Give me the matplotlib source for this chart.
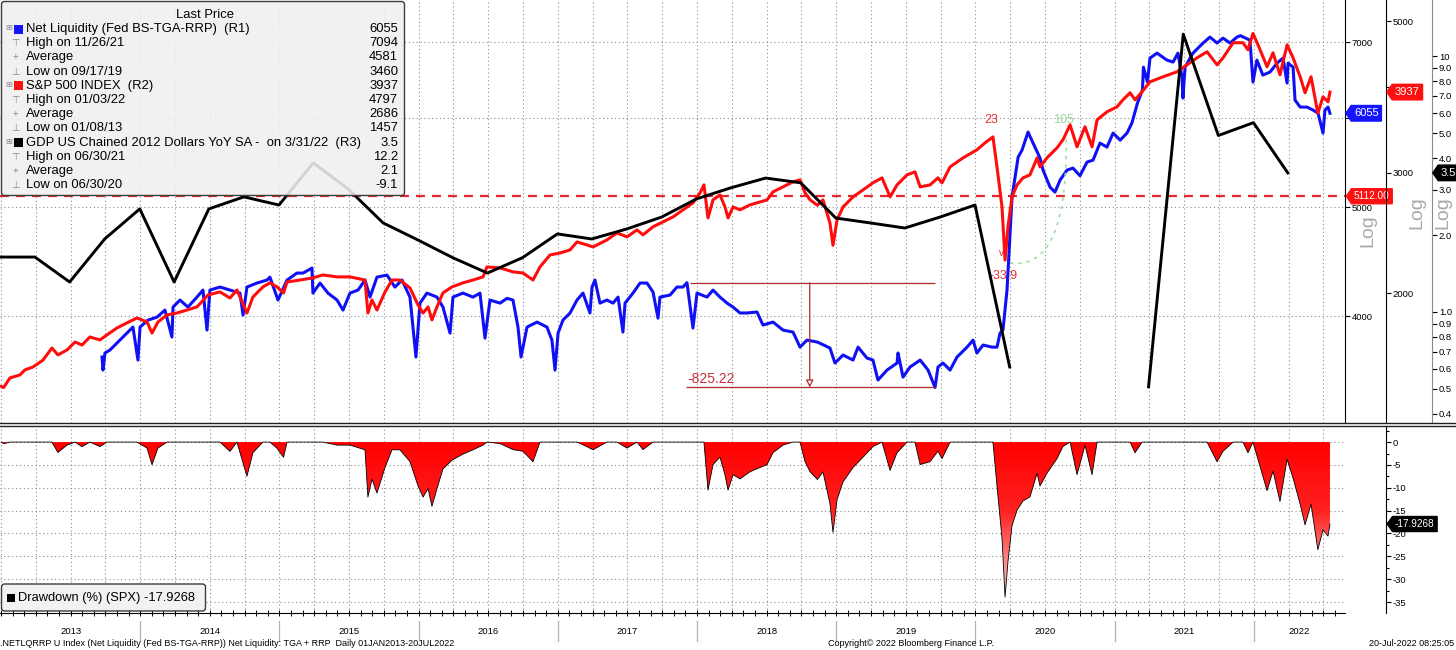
import numpy as np
import pandas as pd
import matplotlib
matplotlib.use("Agg")
import matplotlib.pyplot as plt
from matplotlib import transforms
from matplotlib.colors import LinearSegmentedColormap
from matplotlib.lines import Line2D
from matplotlib.patches import FancyBboxPatch, PathPatch, Rectangle
from matplotlib.path import Path
from matplotlib.ticker import FixedLocator, MultipleLocator, NullLocator, FuncFormatter

plt.rcParams['font.family'] = ['Liberation Sans', 'DejaVu Sans']
plt.rcParams['axes.unicode_minus'] = False

# ---------------------------------------------------------------------------
# data (decimal year, value)
# ---------------------------------------------------------------------------
# Net Liquidity (Fed BS - TGA - RRP), R1
liq_pts = [
    (2013.726, 3682), (2013.733, 3585), (2013.747, 3712), (2013.783, 3735), (2013.833, 3788),
    (2013.905, 3866), (2013.948, 3914), (2013.984, 3659), (2013.999, 3914),
    (2014.056, 3970), (2014.121, 3994), (2014.178, 4052), (2014.228, 3835), (2014.236, 4077),
    (2014.286, 4136), (2014.343, 4077), (2014.408, 4161), (2014.451, 4221), (2014.480, 3890),
    (2014.501, 4221), (2014.573, 4247), (2014.645, 4221), (2014.717, 4195), (2014.739, 4011),
    (2014.767, 4247), (2014.839, 4282), (2014.911, 4308), (2014.932, 4334), (2014.990, 4136),
    (2015.055, 4308), (2015.126, 4370), (2015.170, 4370), (2015.234, 4415), (2015.241, 4195),
    (2015.292, 4282), (2015.349, 4195), (2015.414, 4136), (2015.457, 4052), (2015.507, 4195),
    (2015.565, 4221), (2015.615, 4308), (2015.651, 4161), (2015.701, 4334), (2015.773, 4352),
    (2015.830, 4247), (2015.881, 4308), (2015.938, 4161), (2015.981, 3682),
    (2016.010, 4110), (2016.060, 4195), (2016.132, 4161), (2016.175, 4077), (2016.226, 3866),
    (2016.247, 4161), (2016.319, 4195), (2016.391, 4161), (2016.441, 4195), (2016.477, 3827),
    (2016.513, 4136), (2016.585, 4110), (2016.635, 4150), (2016.678, 4136), (2016.714, 3914),
    (2016.736, 3682), (2016.779, 3914), (2016.851, 3954), (2016.922, 3914), (2016.958, 3811),
    (2016.980, 3585),
    (2017.002, 3866), (2017.037, 3970), (2017.088, 4028), (2017.138, 4136), (2017.181, 4195),
    (2017.231, 4028), (2017.246, 4247), (2017.267, 4308), (2017.303, 4110), (2017.353, 4136),
    (2017.397, 4110), (2017.433, 4161), (2017.468, 3874), (2017.483, 4110), (2017.540, 4195),
    (2017.591, 4282), (2017.641, 4282), (2017.684, 4204), (2017.720, 3986), (2017.734, 4161),
    (2017.806, 4178), (2017.856, 4247), (2017.899, 4247), (2017.928, 4285), (2017.971, 3906),
    (2018.000, 4195), (2018.072, 4161), (2018.115, 4221), (2018.165, 4161), (2018.216, 4110),
    (2018.259, 4077), (2018.309, 4028), (2018.359, 4028), (2018.431, 4036), (2018.474, 3930),
    (2018.546, 3954), (2018.618, 3890), (2018.690, 3874), (2018.740, 3757), (2018.790, 3811),
    (2018.865, 3796), (2018.955, 3750), (2018.991, 3637),
    (2019.049, 3697), (2019.121, 3659), (2019.157, 3757), (2019.221, 3674), (2019.264, 3659),
    (2019.300, 3513), (2019.365, 3585), (2019.437, 3637), (2019.444, 3712), (2019.480, 3534),
    (2019.530, 3607), (2019.603, 3659), (2019.660, 3585), (2019.710, 3460), (2019.731, 3607),
    (2019.767, 3637), (2019.818, 3585), (2019.868, 3682), (2019.940, 3757), (2019.983, 3811),
    (2020.011, 3712), (2020.055, 3773), (2020.119, 3757), (2020.155, 3757), (2020.177, 3866),
    (2020.198, 3890), (2020.227, 4221), (2020.249, 4741), (2020.263, 5103), (2020.307, 5537),
    (2020.335, 5617), (2020.378, 5827), (2020.414, 5698), (2020.464, 5526), (2020.486, 5392),
    (2020.536, 5208), (2020.572, 5155), (2020.608, 5283), (2020.658, 5392), (2020.701, 5414),
    (2020.751, 5330), (2020.802, 5481), (2020.845, 5503), (2020.895, 5698), (2020.945, 5651),
    (2020.989, 5815),
    (2021.040, 5732), (2021.089, 5815), (2021.124, 5935), (2021.164, 6182), (2021.200, 6349),
    (2021.207, 6653), (2021.236, 6453), (2021.254, 6777), (2021.305, 6846), (2021.376, 6749),
    (2021.420, 6722), (2021.455, 6846), (2021.484, 6519), (2021.491, 6246), (2021.506, 6653),
    (2021.563, 6846), (2021.635, 6988), (2021.685, 7074), (2021.736, 6988), (2021.779, 7059),
    (2021.829, 6988), (2021.879, 7074), (2021.904, 7094), (2021.972, 7030), (2021.994, 6453),
    (2022.022, 6749), (2022.065, 6546), (2022.116, 6586), (2022.167, 6708), (2022.210, 6777),
    (2022.239, 6440), (2022.246, 6708), (2022.282, 6653), (2022.296, 6220), (2022.333, 6132),
    (2022.382, 6132), (2022.425, 6095), (2022.461, 6057), (2022.497, 5815), (2022.511, 6095),
    (2022.533, 6132), (2022.547, 6055),
]

# S&P 500 index, R2
spx_pts = [
    (2013.003, 1462), (2013.019, 1457), (2013.065, 1505), (2013.136, 1520), (2013.172, 1546),
    (2013.230, 1561), (2013.302, 1598), (2013.366, 1664), (2013.409, 1626), (2013.474, 1653),
    (2013.532, 1698), (2013.582, 1681), (2013.639, 1727), (2013.711, 1710), (2013.761, 1739),
    (2013.833, 1780), (2013.905, 1811), (2013.977, 1841),
    (2014.049, 1817), (2014.085, 1750), (2014.128, 1817), (2014.193, 1860), (2014.264, 1872),
    (2014.336, 1891), (2014.408, 1911), (2014.487, 1989), (2014.573, 2010), (2014.645, 1969),
    (2014.695, 2023), (2014.767, 1872), (2014.810, 1976), (2014.882, 2044), (2014.932, 2072),
    (2014.983, 2044),
    (2015.030, 2003), (2015.055, 2078), (2015.148, 2092), (2015.241, 2107), (2015.313, 2128),
    (2015.414, 2114), (2015.507, 2114), (2015.615, 2092), (2015.636, 1872), (2015.665, 1956),
    (2015.701, 1891), (2015.759, 2010), (2015.809, 2092), (2015.866, 2092), (2015.938, 2037),
    (2015.996, 1924),
    (2016.032, 1872), (2016.068, 1911), (2016.096, 1829), (2016.132, 1911), (2016.175, 2003),
    (2016.240, 2044), (2016.319, 2072), (2016.391, 2092), (2016.463, 2114), (2016.491, 2186),
    (2016.585, 2179), (2016.678, 2150), (2016.750, 2142), (2016.822, 2092), (2016.872, 2186),
    (2016.944, 2276),
    (2017.016, 2291), (2017.088, 2315), (2017.138, 2378), (2017.210, 2354), (2017.253, 2338),
    (2017.353, 2394), (2017.425, 2451), (2017.497, 2419), (2017.569, 2476), (2017.612, 2435),
    (2017.684, 2502), (2017.756, 2544), (2017.828, 2587), (2017.899, 2649), (2017.971, 2712),
    (2018.022, 2805), (2018.050, 2881), (2018.079, 2578), (2018.115, 2739), (2018.165, 2786),
    (2018.201, 2675), (2018.223, 2578), (2018.259, 2675), (2018.309, 2649), (2018.381, 2694),
    (2018.453, 2721), (2018.503, 2739), (2018.546, 2814), (2018.618, 2862), (2018.690, 2911),
    (2018.740, 2930), (2018.776, 2805), (2018.812, 2740), (2018.865, 2690), (2018.905, 2739),
    (2018.955, 2535), (2018.977, 2351),
    (2019.006, 2561), (2019.049, 2675), (2019.121, 2767), (2019.193, 2833), (2019.264, 2901),
    (2019.329, 2950), (2019.387, 2767), (2019.437, 2881), (2019.509, 2980), (2019.566, 3010),
    (2019.603, 2862), (2019.674, 2881), (2019.731, 2950), (2019.760, 2901), (2019.818, 3061),
    (2019.911, 3155),
    (2020.011, 3242), (2020.069, 3319), (2020.126, 3386), (2020.155, 3061), (2020.191, 2675),
    (2020.213, 2237), (2020.234, 2502), (2020.263, 2767), (2020.299, 2881), (2020.342, 2950),
    (2020.392, 2980), (2020.443, 3155), (2020.464, 3061), (2020.514, 3155), (2020.586, 3263),
    (2020.629, 3353), (2020.680, 3526), (2020.730, 3275), (2020.773, 3444), (2020.787, 3503),
    (2020.838, 3275), (2020.874, 3586), (2020.945, 3684),
    (2021.017, 3746), (2021.060, 3836), (2021.111, 3928), (2021.147, 3836), (2021.197, 3941),
    (2021.254, 4075), (2021.348, 4145), (2021.448, 4215), (2021.520, 4315), (2021.592, 4418),
    (2021.664, 4509), (2021.736, 4315), (2021.779, 4418), (2021.851, 4648), (2021.922, 4648),
    (2021.958, 4539), (2021.994, 4796.56),
    (2022.045, 4539), (2022.095, 4287), (2022.138, 4493), (2022.188, 4173), (2022.239, 4616),
    (2022.282, 4418), (2022.333, 4145), (2022.368, 3928), (2022.411, 4145), (2022.460, 3667),
    (2022.497, 3875), (2022.533, 3810), (2022.547, 3936.69),
]

# GDP US chained 2012 dollars YoY SA (%), R3
gdp_quarters = pd.period_range('2012Q4', '2022Q1', freq='Q')
gdp_yoy = [1.64,
           1.64, 1.31, 1.93, 2.53,
           1.31, 2.53, 2.82, 2.62,
           3.83, 3.03, 2.23, 1.91,
           1.63, 1.42, 1.63, 2.02,
           1.93, 2.11, 2.35, 2.77,
           3.06, 3.34, 3.20, 2.33,
           2.23, 2.13, 2.35, 2.62,
           0.61, -9.1, -2.9, -2.3,
           0.51, 12.2, 4.9, 5.5,
           3.5]

# legend block (Bloomberg "Last Price" table)
legend_rows = [
    ('head', '#1414ff', 'Net Liquidity (Fed BS-TGA-RRP)  (R1)', '6055'),
    ('high', None, 'High on 11/26/21', '7094'),
    ('avg', None, 'Average', '4581'),
    ('low', None, 'Low on 09/17/19', '3460'),
    ('head', '#ff1010', 'S&P 500 INDEX  (R2)', '3937'),
    ('high', None, 'High on 01/03/22', '4797'),
    ('avg', None, 'Average', '2686'),
    ('low', None, 'Low on 01/08/13', '1457'),
    ('head', 'black', 'GDP US Chained 2012 Dollars YoY SA -  on 3/31/22  (R3)', '3.5'),
    ('high', None, 'High on 06/30/21', '12.2'),
    ('avg', None, 'Average', '2.1'),
    ('low', None, 'Low on 06/30/20', '-9.1'),
]

# annotations drawn on the screen
level_line = 5112.0                      # red dashed horizontal level (R1)
meas_hi = 4285.22                        # measuring tool, upper level (R1)
meas_t0, meas_t1, meas_tv = 2017.95, 2019.71, 2018.81

liq_t, liq_v = np.array(liq_pts).T
spx_t, spx_v = np.array(spx_pts).T


def dec_year(ts):
    start = pd.Timestamp(year=ts.year, month=1, day=1)
    end = pd.Timestamp(year=ts.year + 1, month=1, day=1)
    return ts.year + (ts - start) / (end - start)


gdp_t = np.array([dec_year(q.end_time.normalize()) for q in gdp_quarters])
gdp_v = np.array(gdp_yoy, dtype=float)
gdp_plot = np.where(gdp_v > 0, gdp_v, np.nan)   # log axis: negative quarters drop out
dd = (spx_v / np.maximum.accumulate(spx_v) - 1) * 100
meas_lo = liq_v.min()

# ---------------------------------------------------------------------------
W, H = 1456, 650
fig = plt.figure(figsize=(W / 100, H / 100), dpi=100)
X0, X1 = 2012.993, 2022.655
AXW = 1345 / W
R2_POS = 1386 / 1345
R3_POS = 1432 / 1345
GRID = dict(color='#8c8c8c', linestyle=(0, (1, 2.5)), linewidth=0.8)
TICKS = dict(direction='out', length=3.5, width=0.8, pad=1.5, labelsize=6.8, colors='black')


def int_label(hidden=()):
    # labels hidden behind a value flag are left blank, as on the screen
    return FuncFormatter(lambda v, p: '' if round(v) in hidden else f'{v:.0f}')


ax_liq = fig.add_axes([0, 1 - 423 / H, AXW, 423 / H])
ax_spx = ax_liq.twinx()
ax_gdp = ax_liq.twinx()
ax_dd = fig.add_axes([0, 1 - 613 / H, AXW, 186 / H])

for ax in (ax_liq, ax_spx, ax_gdp):
    for s in ('top', 'left', 'bottom'):
        ax.spines[s].set_visible(False)
    ax.set_yscale('log')
    ax.yaxis.set_minor_locator(NullLocator())
    ax.tick_params(axis='y', which='both', **TICKS)
ax_liq.yaxis.tick_right()
ax_spx.spines['right'].set_position(('axes', R2_POS))
ax_gdp.spines['right'].set_position(('axes', R3_POS))
ax_gdp.spines['right'].set_color('#8a8a8a')

ax_liq.set_xlim(X0, X1)
ax_liq.xaxis.set_major_locator(MultipleLocator(0.25))
ax_liq.tick_params(axis='x', length=0, labelbottom=False)
ax_liq.grid(True, **GRID)

ax_liq.set_ylim(3218, 7630)
ax_liq.yaxis.set_major_locator(FixedLocator([4000, 5000, 6000, 7000]))
ax_liq.yaxis.set_major_formatter(int_label(hidden=(6000,)))
ax_spx.set_ylim(1293, 5367)
ax_spx.yaxis.set_major_locator(FixedLocator([2000, 3000, 4000, 5000]))
ax_spx.yaxis.set_major_formatter(int_label(hidden=(4000,)))
ax_gdp.set_ylim(0.368, 16.6)
ax_gdp.yaxis.set_major_locator(FixedLocator([0.4, 0.5, 0.6, 0.7, 0.8, 0.9, 1, 2, 3, 4, 5, 6, 7, 8, 9, 10]))
ax_gdp.yaxis.set_major_formatter(FuncFormatter(lambda v, p: '10' if v >= 10 else f'{v:.1f}'))

# series
ax_liq.plot(liq_t, liq_v, color='#1010f5', lw=2.2, solid_joinstyle='round')
ax_spx.plot(spx_t, spx_v, color='#ff0d0d', lw=2.2, solid_joinstyle='round')
ax_gdp.plot(gdp_t, gdp_plot, color='black', lw=2.1)

# level line and measuring tool
ax_liq.axhline(level_line, color='#e3262d', lw=1.6, ls=(0, (4, 3.2)), zorder=1.5)
mc = '#b22a2a'
ax_liq.hlines([meas_hi], meas_t0, meas_t1, color=mc, lw=0.9)
ax_liq.hlines([meas_lo], meas_t0 - 0.03, meas_t1, color=mc, lw=0.9)
ax_liq.annotate('', xy=(meas_tv, meas_lo), xytext=(meas_tv, meas_hi),
                arrowprops=dict(arrowstyle='-|>', color=mc, fc='white', lw=0.9,
                                mutation_scale=11, shrinkA=0, shrinkB=0))
ax_liq.text(meas_t0 - 0.02, meas_lo * 1.004, f'{meas_lo - meas_hi:.2f}', color='#c8303a',
            fontsize=10, ha='left', va='bottom')

# S&P percentage tool marks
ax_spx.text(2020.115, 3586, '23', color='#e8303a', fontsize=9, ha='center', va='center')
ax_spx.text(2020.205, 2120, '-33.9', color='#e8303a', fontsize=9, ha='center', va='center')
ax_spx.text(2020.19, 2290, 'v', color='#e8303a', fontsize=7, ha='center', va='center')
ax_spx.text(2020.63, 3586, '105', color='#9ad99a', fontsize=9, ha='center', va='center')
arc = Path([(2020.248, 2216), (2020.680, 2150), (2020.651, 3491)],
           [Path.MOVETO, Path.CURVE3, Path.CURVE3])
ax_spx.add_patch(PathPatch(arc, fc='none', ec='#9ee09e', lw=1.2, ls=(0, (2, 3))))


# value flags on the right axes
def pentagon(x0, y0, width, height, mutation_size):
    pad = mutation_size * 0.25
    x0, y0 = x0 - pad, y0 - pad
    width, height = width + 2 * pad, height + 2 * pad
    x1, y1 = x0 + width, y0 + height
    return Path([(x0, y0), (x1, y0), (x1, y1), (x0, y1),
                 (x0 - height * 0.35, y0 + height / 2), (x0, y0)], closed=True)


def flag(ax, xpos, y, text, fc, dx=9, fs=7.6):
    tr = transforms.blended_transform_factory(ax.transAxes, ax.transData)
    ax.annotate(text, xy=(xpos, y), xycoords=tr, xytext=(dx, 0), textcoords='offset pixels',
                ha='left', va='center', color='white', fontsize=fs,
                bbox=dict(boxstyle=pentagon, fc=fc, ec=fc),
                annotation_clip=False, zorder=30)


flag(ax_liq, 1.0, liq_v[-1], f'{liq_v[-1]:.0f}', '#1414ff', fs=8)
flag(ax_liq, 1.0, level_line, f'{level_line:.2f}', '#ff1010', fs=7.2)
flag(ax_spx, R2_POS, spx_v[-1], f'{spx_v[-1]:.0f}', '#ff1010', fs=8)
flag(ax_gdp, R3_POS, gdp_v[-1], f'{gdp_v[-1]:.1f}', 'black', fs=8)

# drawdown panel
for s in ('top', 'left'):
    ax_dd.spines[s].set_visible(False)
ax_dd.spines['right'].set_position(('axes', R2_POS))
ax_dd.yaxis.tick_right()
ax_dd.tick_params(axis='y', which='both', **TICKS)
ax_dd.tick_params(axis='y', which='minor', length=2.5)
ax_dd.yaxis.set_major_locator(MultipleLocator(5))
ax_dd.yaxis.set_minor_locator(MultipleLocator(2.5))
ax_dd.yaxis.set_major_formatter(FuncFormatter(lambda v, p: f'{v:.0f}'))
ax_dd.xaxis.set_major_locator(MultipleLocator(0.25))
ax_dd.xaxis.set_minor_locator(MultipleLocator(1 / 12))
ax_dd.tick_params(axis='x', which='both', direction='inout', length=4, width=0.7,
                  labelbottom=False)
ax_dd.grid(True, **GRID)

poly = ax_dd.fill_between(spx_t, dd, 0, facecolor='none', edgecolor='none')
dd_cmap = LinearSegmentedColormap.from_list(
    'dd', [(0.0, '#ffd9d9'), (0.25, '#ff9a9a'), (0.6, '#ff2020'), (1.0, '#ff0000')])
grad = np.linspace(0, 1, 256).reshape(-1, 1)
im = ax_dd.imshow(grad, extent=[X0, X1, -37.4, 0], origin='lower', aspect='auto',
                  cmap=dd_cmap, zorder=2)
im.set_clip_path(poly.get_paths()[0], transform=ax_dd.transData)
ax_dd.plot(spx_t, dd, color='black', lw=0.6, zorder=3)
ax_dd.set_xlim(X0, X1)
ax_dd.set_ylim(-37.4, 3.3)
flag(ax_dd, R2_POS, dd[-1], f'{dd[-1]:.4f}', 'black', fs=7.2)

# double separator between the panels
for py in (423, 426):
    fig.add_artist(Line2D([0, 1], [1 - py / H] * 2, transform=fig.transFigure,
                          color='#202020', lw=1.0))

# year labels under the lower panel
yr_tr = transforms.blended_transform_factory(ax_dd.transData, fig.transFigure)
for yr in range(2013, 2023):
    mid = (max(yr, X0) + min(yr + 1, X1)) / 2
    ax_dd.text(mid, 1 - 632 / H, str(yr), transform=yr_tr, ha='center', va='center',
               fontsize=6.8)
    if yr > 2013:
        ax_dd.add_line(Line2D([yr, yr], [1 - 621 / H, 1 - 641 / H], transform=yr_tr,
                              color='#b4b4b4', lw=0.9, clip_on=False))

# "Log" markers on the right axes (drawn beneath the tick labels)
for px, py in ((1368, 231), (1417, 213), (1443, 213)):
    fig.text(px / W, 1 - py / H, 'Log', rotation=90, fontsize=14, color='#a8a8a8',
             ha='center', va='center', zorder=0)

# footer
fig.text(0.5 / W, 1 - 644 / H,
         '.NETLQRRP U Index (Net Liquidity (Fed BS-TGA-RRP)) Net Liquidity: TGA + RRP  '
         'Daily 01JAN2013-20JUL2022', fontsize=6.5, va='center')
fig.text(828 / W, 1 - 644 / H, 'Copyright\u00a9 2022 Bloomberg Finance L.P.', fontsize=6.5,
         va='center')
fig.text(1454 / W, 1 - 644 / H, '20-Jul-2022 08:25:05', fontsize=6.5, va='center', ha='right')

# overlay in pixel coordinates for the legend boxes
ov = fig.add_axes([0, 0, 1, 1], zorder=5)
ov.set_xlim(0, W)
ov.set_ylim(H, 0)
ov.axis('off')

ov.add_patch(FancyBboxPatch((1.5, 1.5), 403, 194, boxstyle='round,pad=0,rounding_size=3',
                            fc=(0.94, 0.94, 0.94, 0.88), ec='#3c3c3c', lw=1.0))
ov.text(205, 15, 'Last Price', ha='center', va='center', fontsize=9.4)
marks = {'high': '\u22a4', 'avg': '+', 'low': '\u22a5'}
for i, (kind, color, label, value) in enumerate(legend_rows):
    y = 29 + i * 14.2
    if kind == 'head':
        ov.text(9, y, '\u229e', fontsize=6, color='#8a8a8a', ha='center', va='center')
        ov.add_patch(Rectangle((14, y - 4.5), 9, 9, fc=color, ec='none'))
    else:
        ov.text(15, y, marks[kind], fontsize=7, color='#8a8a8a', ha='center', va='center')
    ov.text(26, y, label, fontsize=9.4, ha='left', va='center')
    ov.text(398, y, value, fontsize=9.4, ha='right', va='center')

ov.add_patch(FancyBboxPatch((1.5, 584), 204, 27, boxstyle='round,pad=0,rounding_size=3',
                            fc='#f2f2f2', ec='#3c3c3c', lw=1.0))
ov.add_patch(Rectangle((7, 593.5), 8, 8, fc='black', ec='none'))
ov.text(18, 597.5, f'Drawdown (%) (SPX) {dd[-1]:.4f}', fontsize=9.3, ha='left', va='center')

fig.savefig('out.png', dpi=100)
